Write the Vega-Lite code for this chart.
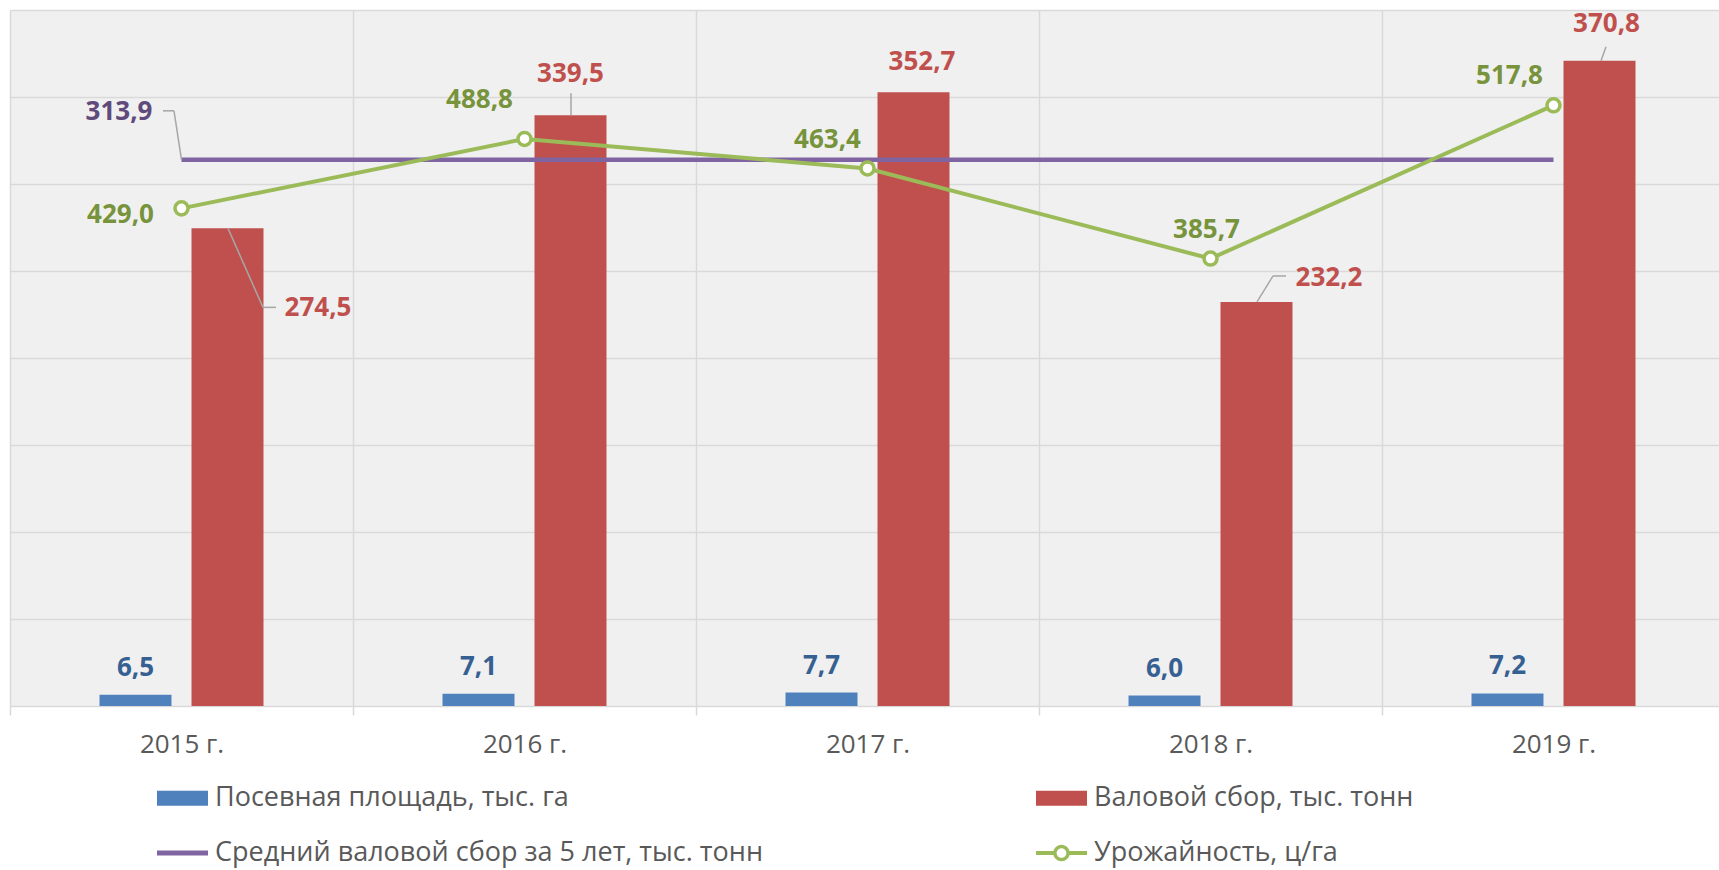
{
  "$schema": "https://vega.github.io/schema/vega-lite/v6.json",
  "width": 1709,
  "height": 696,
  "autosize": {"type": "none"},
  "padding": {"left": 10, "top": 10, "right": 0, "bottom": 164},
  "background": "#ffffff",
  "data": {"values": [
    {"year": "2015 г.", "area": 6.5, "gross": 274.5, "avg": 313.9, "yield": 429.0},
    {"year": "2016 г.", "area": 7.1, "gross": 339.5, "avg": 313.9, "yield": 488.8},
    {"year": "2017 г.", "area": 7.7, "gross": 352.7, "avg": 313.9, "yield": 463.4},
    {"year": "2018 г.", "area": 6.0, "gross": 232.2, "avg": 313.9, "yield": 385.7},
    {"year": "2019 г.", "area": 7.2, "gross": 370.8, "avg": 313.9, "yield": 517.8}
  ]},
  "config": {
    "font": "Open Sans",
    "locale": {"number": {"decimal": ",", "thousands": " ", "grouping": [3], "currency": ["", ""]}},
    "view": {"fill": "#f0f0f0", "stroke": null}
  },
  "layer": [
    {
      "encoding": {
        "x": {"field": "year", "type": "nominal", "sort": null,
          "scale": {"range": [0, 1715], "paddingInner": 0, "paddingOuter": 0},
          "axis": {"title": null, "tickBand": "extent", "grid": true, "gridColor": "#d9d9d9", "gridWidth": 1.5,
            "domainColor": "#d9d9d9", "domainWidth": 1.5, "tickColor": "#d9d9d9", "tickWidth": 1.5, "tickSize": 9,
            "labelFont": "Open Sans", "labelFontSize": 26, "labelColor": "#595959", "labelPadding": 16, "labelAngle": 0}}
      },
      "layer": [
        {
          "mark": {"type": "bar", "width": 72, "xOffset": -46, "color": "#4f81bd"},
          "encoding": {
            "y": {"field": "area", "type": "quantitative", "scale": {"domain": [0, 400], "nice": false},
              "axis": {"title": null, "grid": true, "gridColor": "#d9d9d9", "gridWidth": 1.5, "labels": false, "ticks": false, "domain": false,
                "values": [50, 100, 150, 200, 250, 300, 350, 400]}},
            "color": {"datum": "Посевная площадь, тыс. га", "type": "nominal",
              "scale": {"domain": ["Посевная площадь, тыс. га", "Валовой сбор, тыс. тонн", "Средний валовой сбор за 5 лет, тыс. тонн", "Урожайность, ц/га"],
                "range": ["#4f81bd", "#c0504d", "#8064a2", "#9bbb59"]},
              "legend": {"title": null, "orient": "none", "legendX": 147, "legendY": 762.5, "columns": 2, "direction": "horizontal",
                "columnPadding": 273, "rowPadding": 16, "padding": 0, "symbolSize": 2601, "symbolStrokeWidth": 0,
                "labelFont": "Open Sans", "labelFontSize": 27, "labelColor": "#595959", "labelOffset": 7, "labelLimit": 900,
                "encode": {"symbols": {"update": {
                  "shape": {"signal": "datum.value === 'Урожайность, ц/га' ? 'M-1,-0.08H-0.3V0.08H-1Z M0.3,-0.08H1V0.08H0.3Z M0.325,0A0.325,0.325,0,1,1,-0.325,0A0.325,0.325,0,1,1,0.325,0Z M0.19,0A0.19,0.19,0,1,0,-0.19,0A0.19,0.19,0,1,0,0.19,0Z' : (datum.value === 'Средний валовой сбор за 5 лет, тыс. тонн' ? 'M-1,-0.1H1V0.1H-1Z' : 'M-1,-0.29H1V0.29H-1Z')"}
                }}}}}
          }
        },
        {
          "mark": {"type": "bar", "width": 72, "xOffset": 46, "color": "#c0504d"},
          "encoding": {
            "y": {"field": "gross", "type": "quantitative", "scale": {"domain": [0, 400]}},
            "color": {"datum": "Валовой сбор, тыс. тонн", "type": "nominal"}
          }
        },
        {
          "mark": {"type": "line", "strokeWidth": 4.5, "color": "#8064a2"},
          "encoding": {
            "y": {"field": "avg", "type": "quantitative", "scale": {"domain": [0, 400]}},
            "color": {"datum": "Средний валовой сбор за 5 лет, тыс. тонн", "type": "nominal"}
          }
        },
        {
          "transform": [{"filter": "datum.year === '2015 г.'"}],
          "mark": {"type": "rule", "color": "#a6a6a6", "strokeWidth": 1.5, "xOffset": 0, "x2Offset": -7.5, "yOffset": 0, "y2Offset": -49},
          "encoding": {"x2": {"field": "year"}, "y": {"field": "avg", "type": "quantitative"}, "y2": {"field": "avg"}}
        },
        {
          "transform": [{"filter": "datum.year === '2015 г.'"}],
          "mark": {"type": "rule", "color": "#a6a6a6", "strokeWidth": 1.5, "xOffset": -7.5, "x2Offset": -18.5, "yOffset": -49, "y2Offset": -49},
          "encoding": {"x2": {"field": "year"}, "y": {"field": "avg", "type": "quantitative"}, "y2": {"field": "avg"}}
        },
        {
          "transform": [{"filter": "datum.year === '2015 г.'"}],
          "mark": {"type": "rule", "color": "#a6a6a6", "strokeWidth": 1.5, "xOffset": 46.5, "x2Offset": 81.5, "yOffset": 0, "y2Offset": 79},
          "encoding": {"x2": {"field": "year"}, "y": {"field": "gross", "type": "quantitative"}, "y2": {"field": "gross"}}
        },
        {
          "transform": [{"filter": "datum.year === '2015 г.'"}],
          "mark": {"type": "rule", "color": "#a6a6a6", "strokeWidth": 1.5, "xOffset": 81.5, "x2Offset": 94.5, "yOffset": 79, "y2Offset": 79},
          "encoding": {"x2": {"field": "year"}, "y": {"field": "gross", "type": "quantitative"}, "y2": {"field": "gross"}}
        },
        {
          "transform": [{"filter": "datum.year === '2016 г.'"}],
          "mark": {"type": "rule", "color": "#a6a6a6", "strokeWidth": 1.5, "xOffset": 46.5, "x2Offset": 46.5, "yOffset": 0, "y2Offset": -22},
          "encoding": {"x2": {"field": "year"}, "y": {"field": "gross", "type": "quantitative"}, "y2": {"field": "gross"}}
        },
        {
          "transform": [{"filter": "datum.year === '2018 г.'"}],
          "mark": {"type": "rule", "color": "#a6a6a6", "strokeWidth": 1.5, "xOffset": 46.5, "x2Offset": 62.5, "yOffset": 0, "y2Offset": -26},
          "encoding": {"x2": {"field": "year"}, "y": {"field": "gross", "type": "quantitative"}, "y2": {"field": "gross"}}
        },
        {
          "transform": [{"filter": "datum.year === '2018 г.'"}],
          "mark": {"type": "rule", "color": "#a6a6a6", "strokeWidth": 1.5, "xOffset": 62.5, "x2Offset": 75.5, "yOffset": -26, "y2Offset": -26},
          "encoding": {"x2": {"field": "year"}, "y": {"field": "gross", "type": "quantitative"}, "y2": {"field": "gross"}}
        },
        {
          "transform": [{"filter": "datum.year === '2019 г.'"}],
          "mark": {"type": "rule", "color": "#a6a6a6", "strokeWidth": 1.5, "xOffset": 47.5, "x2Offset": 52.5, "yOffset": 0, "y2Offset": -14},
          "encoding": {"x2": {"field": "year"}, "y": {"field": "gross", "type": "quantitative"}, "y2": {"field": "gross"}}
        },
        {
          "mark": {"type": "text", "fontSize": 26, "fontWeight": "bold", "color": "#376092", "align": "center", "baseline": "middle", "dx": -46, "dy": -27},
          "encoding": {
            "y": {"field": "area", "type": "quantitative"},
            "text": {"field": "area", "type": "quantitative", "format": ".1f"}
          }
        },
        {
          "transform": [{"filter": "datum.year === '2015 г.'"}],
          "mark": {"type": "text", "fontSize": 26, "fontWeight": "bold", "color": "#604a7b", "align": "center", "baseline": "middle", "dx": -62.5, "dy": -48},
          "encoding": {
            "y": {"field": "avg", "type": "quantitative"},
            "text": {"field": "avg", "type": "quantitative", "format": ".1f"}
          }
        },
        {
          "transform": [{"filter": "datum.year === '2015 г.'"}],
          "mark": {"type": "text", "fontSize": 26, "fontWeight": "bold", "color": "#c0504d", "align": "center", "baseline": "middle", "dx": 136.5, "dy": 80},
          "encoding": {
            "y": {"field": "gross", "type": "quantitative"},
            "text": {"field": "gross", "type": "quantitative", "format": ".1f"}
          }
        },
        {
          "transform": [{"filter": "datum.year === '2016 г.'"}],
          "mark": {"type": "text", "fontSize": 26, "fontWeight": "bold", "color": "#c0504d", "align": "center", "baseline": "middle", "dx": 46, "dy": -41},
          "encoding": {
            "y": {"field": "gross", "type": "quantitative"},
            "text": {"field": "gross", "type": "quantitative", "format": ".1f"}
          }
        },
        {
          "transform": [{"filter": "datum.year === '2017 г.'"}],
          "mark": {"type": "text", "fontSize": 26, "fontWeight": "bold", "color": "#c0504d", "align": "center", "baseline": "middle", "dx": 54.5, "dy": -30},
          "encoding": {
            "y": {"field": "gross", "type": "quantitative"},
            "text": {"field": "gross", "type": "quantitative", "format": ".1f"}
          }
        },
        {
          "transform": [{"filter": "datum.year === '2018 г.'"}],
          "mark": {"type": "text", "fontSize": 26, "fontWeight": "bold", "color": "#c0504d", "align": "center", "baseline": "middle", "dx": 118.5, "dy": -24},
          "encoding": {
            "y": {"field": "gross", "type": "quantitative"},
            "text": {"field": "gross", "type": "quantitative", "format": ".1f"}
          }
        },
        {
          "transform": [{"filter": "datum.year === '2019 г.'"}],
          "mark": {"type": "text", "fontSize": 26, "fontWeight": "bold", "color": "#c0504d", "align": "center", "baseline": "middle", "dx": 53, "dy": -37},
          "encoding": {
            "y": {"field": "gross", "type": "quantitative"},
            "text": {"field": "gross", "type": "quantitative", "format": ".1f"}
          }
        }
      ]
    },
    {
      "encoding": {
        "x": {"field": "year", "type": "nominal", "sort": null}
      },
      "layer": [
        {
          "mark": {"type": "line", "strokeWidth": 4, "color": "#9bbb59",
            "point": {"filled": false, "fill": "#ffffff", "size": 170, "strokeWidth": 3.5, "color": "#9bbb59"}},
          "encoding": {
            "y": {"field": "yield", "type": "quantitative", "scale": {"domain": [0, 600], "nice": false}, "axis": null},
            "color": {"datum": "Урожайность, ц/га", "type": "nominal"}
          }
        },
        {
          "transform": [{"filter": "datum.year === '2015 г.'"}],
          "mark": {"type": "text", "fontSize": 26, "fontWeight": "bold", "color": "#77933c", "align": "center", "baseline": "middle", "dx": -61, "dy": 7},
          "encoding": {
            "y": {"field": "yield", "type": "quantitative", "axis": null},
            "text": {"field": "yield", "type": "quantitative", "format": ".1f"}
          }
        },
        {
          "transform": [{"filter": "datum.year === '2016 г.'"}],
          "mark": {"type": "text", "fontSize": 26, "fontWeight": "bold", "color": "#77933c", "align": "center", "baseline": "middle", "dx": -45, "dy": -39},
          "encoding": {
            "y": {"field": "yield", "type": "quantitative", "axis": null},
            "text": {"field": "yield", "type": "quantitative", "format": ".1f"}
          }
        },
        {
          "transform": [{"filter": "datum.year === '2017 г.'"}],
          "mark": {"type": "text", "fontSize": 26, "fontWeight": "bold", "color": "#77933c", "align": "center", "baseline": "middle", "dx": -40, "dy": -28},
          "encoding": {
            "y": {"field": "yield", "type": "quantitative", "axis": null},
            "text": {"field": "yield", "type": "quantitative", "format": ".1f"}
          }
        },
        {
          "transform": [{"filter": "datum.year === '2018 г.'"}],
          "mark": {"type": "text", "fontSize": 26, "fontWeight": "bold", "color": "#77933c", "align": "center", "baseline": "middle", "dx": -4, "dy": -29},
          "encoding": {
            "y": {"field": "yield", "type": "quantitative", "axis": null},
            "text": {"field": "yield", "type": "quantitative", "format": ".1f"}
          }
        },
        {
          "transform": [{"filter": "datum.year === '2019 г.'"}],
          "mark": {"type": "text", "fontSize": 26, "fontWeight": "bold", "color": "#77933c", "align": "center", "baseline": "middle", "dx": -44, "dy": -29},
          "encoding": {
            "y": {"field": "yield", "type": "quantitative", "axis": null},
            "text": {"field": "yield", "type": "quantitative", "format": ".1f"}
          }
        }
      ]
    }
  ],
  "resolve": {"scale": {"y": "independent"}}
}
